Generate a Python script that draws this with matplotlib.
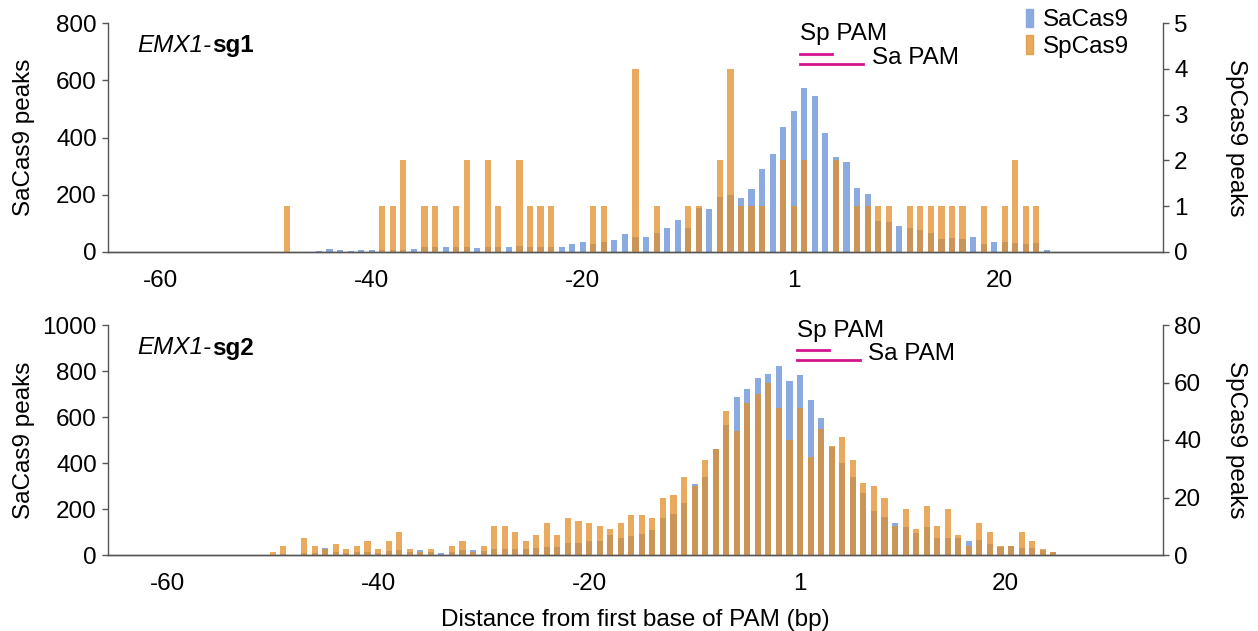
import numpy as np
import matplotlib
matplotlib.use('Agg')
import matplotlib.pyplot as plt
from matplotlib.patches import Patch

plt.rcParams['font.family'] = ['Liberation Sans', 'DejaVu Sans']

# positions relative to first PAM base (there is no position 0)
sg1_pos = [p for p in range(-48, 26) if p != 0]
sg1_sa = [0, 0, 0, 5, 10, 7, 5, 7, 7, 7, 7, 7, 10, 19, 19, 19, 16, 19, 15, 19,
          19, 19, 21, 19, 19, 19, 16, 27, 34, 27, 36, 41, 64, 54, 54, 65, 85, 113,
          85, 155, 150, 193, 199, 187, 220, 290, 344, 438,
          493, 572, 545, 417, 331, 316, 222, 201, 108, 106, 92, 83, 77, 65, 44, 50,
          44, 54, 28, 34, 36, 33, 28, 30, 7]
sg1_sp = [1, 0, 0, 0, 0, 0, 0, 0, 0, 1, 1, 2, 0, 1, 1, 0, 1, 2, 0, 2,
          1, 0, 2, 1, 1, 1, 0, 0, 0, 1, 1, 0, 0, 4, 0, 1, 0, 0,
          1, 1, 0, 2, 4, 1, 1, 1, 0, 2,
          1, 2, 0, 0, 2, 0, 1, 1, 1, 1, 0, 1, 1, 1, 1, 1,
          1, 0, 1, 0, 1, 2, 1, 1, 0]

sg2_pos = [p for p in range(-50, 26) if p != 0]
sg2_sa = [2, 5, 0, 8, 10, 32, 12, 10, 12, 15, 10, 18, 22, 12, 22, 15, 10, 15, 20, 20,
          18, 28, 28, 25, 28, 30, 33, 35, 51, 51, 61, 61, 85, 72, 83, 90, 109, 162,
          177, 225, 309, 340, 459, 565, 688, 720, 771, 785, 822, 757,
          783, 674, 597, 470, 400, 340, 268, 191, 167, 138, 123, 94, 120, 72, 72, 75,
          61, 65, 48, 36, 39, 29, 29, 20, 14]
sg2_sp = [1, 3, 0, 6, 3, 2, 4, 2, 3, 5, 2, 5, 8, 2, 1, 2, 0, 3, 5, 1,
          3, 10, 10, 8, 5, 7, 11, 7, 13, 12, 11, 10, 9, 11, 14, 14, 13, 20,
          21, 27, 24, 33, 37, 50, 43, 53, 56, 60, 51, 40,
          51, 34, 44, 38, 41, 33, 25, 24, 20, 10, 16, 9, 17, 10, 16, 7,
          3, 11, 8, 3, 3, 8, 5, 2, 1]

tick_idx = [-60, -40, -20, 0, 19.5]
tick_labels = ['-60', '-40', '-20', '1', '20']

panels = [
    dict(name='sg1', pos=sg1_pos, sa=sg1_sa, sp=sg1_sp,
         sa_max=800, sa_ticks=[0, 200, 400, 600, 800],
         sp_max=5, sp_ticks=[0, 1, 2, 3, 4, 5]),
    dict(name='sg2', pos=sg2_pos, sa=sg2_sa, sp=sg2_sp,
         sa_max=1000, sa_ticks=[0, 200, 400, 600, 800, 1000],
         sp_max=80, sp_ticks=[0, 20, 40, 60, 80]),
]

BLUE = '#8AAAE0'
ORANGE = '#E28E2A'
MAGENTA = '#D4148C'
SPINE = '#555555'
FS = 17.5
W, H = 1258, 631

fig = plt.figure(figsize=(W / 100, H / 100), dpi=100)

# pixel boxes: (left, top, right, bottom), xlim, PAM line start, Sa text x, text/line y
boxes = [((108, 23, 1163, 252), (-65.0, 35.0), 0.6, 7.4,
          (0.952, 0.865, 0.846, 0.821)),
         ((108, 325, 1163, 555), (-65.6, 34.4), -0.3, 6.4,
          (0.974, 0.891, 0.876, 0.848))]

for pnl, (box, xlim, pam_x0, sa_txt_x, ys) in zip(panels, boxes):
    l, t, r, b = box
    ax = fig.add_axes([l / W, 1 - b / H, (r - l) / W, (b - t) / H])
    ax2 = ax.twinx()
    pos = np.array(pnl['pos'])
    x = np.where(pos < 0, pos, pos - 1)
    ax.bar(x, pnl['sa'], width=0.58, color=BLUE, zorder=2)
    ax2.bar(x, pnl['sp'], width=0.58, color=ORANGE, alpha=0.75, zorder=2)

    ax.set_xlim(*xlim)
    ax.set_ylim(0, pnl['sa_max'])
    ax2.set_ylim(0, pnl['sp_max'])
    ax.set_yticks(pnl['sa_ticks'])
    ax2.set_yticks(pnl['sp_ticks'])
    ax.set_xticks(tick_idx)
    ax.set_xticklabels(tick_labels)

    for a in (ax, ax2):
        a.spines['top'].set_visible(False)
        for s in a.spines.values():
            s.set_color(SPINE)
            s.set_linewidth(1.0)
        a.tick_params(axis='y', labelsize=FS, length=4, width=1.0,
                      color=SPINE, pad=4)
    ax.spines['right'].set_visible(False)
    ax2.spines['left'].set_visible(False)
    ax.tick_params(axis='x', labelsize=FS, length=0, pad=13)
    ax.set_ylabel('SaCas9 peaks', fontsize=FS, va='center')
    ax2.set_ylabel('SpCas9 peaks', fontsize=FS, rotation=270, va='center')
    ax.yaxis.set_label_coords((24 - l) / (r - l), 0.5)
    ax2.yaxis.set_label_coords((1236 - l) / (r - l), 0.5)

    # panel title: italic gene name, bold guide
    t1 = ax.text(0.028, 0.9, 'EMX1-', transform=ax.transAxes, fontsize=FS,
                 style='italic', va='center', ha='left')
    ax.annotate(pnl['name'], xy=(1, 0.5), xycoords=t1, fontsize=FS,
                fontweight='bold', va='center', ha='left')

    # PAM annotations
    trans = ax.get_xaxis_transform()
    sp_text_y, sp_line_y, sa_text_y, sa_line_y = ys
    ax.plot([pam_x0, pam_x0 + 3], [sp_line_y] * 2, color=MAGENTA, lw=2,
            transform=trans, clip_on=False, zorder=5)
    ax.plot([pam_x0, pam_x0 + 6], [sa_line_y] * 2, color=MAGENTA, lw=2,
            transform=trans, clip_on=False, zorder=5)
    ax.text(pam_x0, sp_text_y, 'Sp PAM', transform=trans, fontsize=FS,
            ha='left', va='center')
    ax.text(sa_txt_x, sa_text_y, 'Sa PAM', transform=trans, fontsize=FS,
            ha='left', va='center')

    if pnl['name'] == 'sg1':
        handles = [Patch(color=BLUE, label='SaCas9'),
                   Patch(color=ORANGE, alpha=0.75, label='SpCas9')]
        fig.legend(handles=handles, loc='upper left',
                   bbox_to_anchor=(1011 / W, 1 + 6 / H), frameon=False,
                   fontsize=FS, handlelength=0.3, handleheight=0.8,
                   handletextpad=0.4, labelspacing=0.15, borderpad=0.1)

    if pnl['name'] == 'sg2':
        ax.set_xlabel('Distance from first base of PAM (bp)', fontsize=FS,
                      labelpad=10)

fig.savefig('out.png', dpi=100)
